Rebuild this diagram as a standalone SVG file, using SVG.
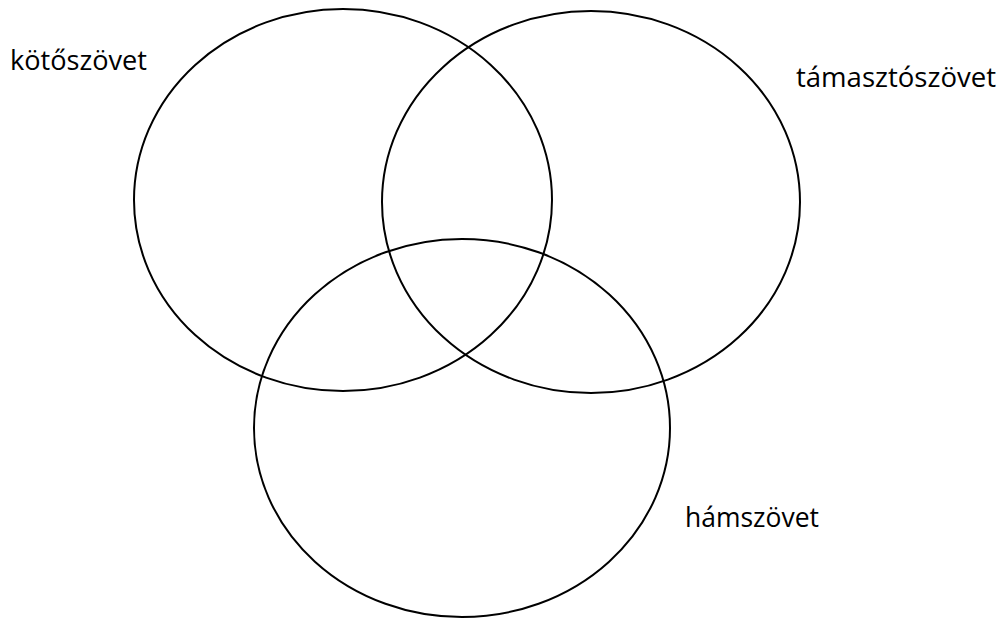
<svg xmlns="http://www.w3.org/2000/svg" width="1001" height="619" viewBox="0 0 1001 619">
<style>
.c{fill:none;stroke:#000;stroke-width:2}
.t{font-family:"Open Sans","Liberation Sans",sans-serif;font-size:27px;fill:#000}
</style>
<rect width="1001" height="619" fill="#fff"/>
<g id="kotoszovet"><ellipse class="c" cx="343" cy="200" rx="209" ry="191"/><text class="t" x="10" y="70" textLength="137" lengthAdjust="spacingAndGlyphs">kötőszövet</text></g>
<g id="tamasztoszovet"><ellipse class="c" cx="591" cy="202" rx="209" ry="191"/><text class="t" x="796" y="87" textLength="200" lengthAdjust="spacingAndGlyphs">támasztószövet</text></g>
<g id="hamszovet"><ellipse class="c" cx="462" cy="428" rx="208" ry="189"/><text class="t" x="685" y="527" textLength="134" lengthAdjust="spacingAndGlyphs">hámszövet</text></g>
<g id="connectors"/>
</svg>
